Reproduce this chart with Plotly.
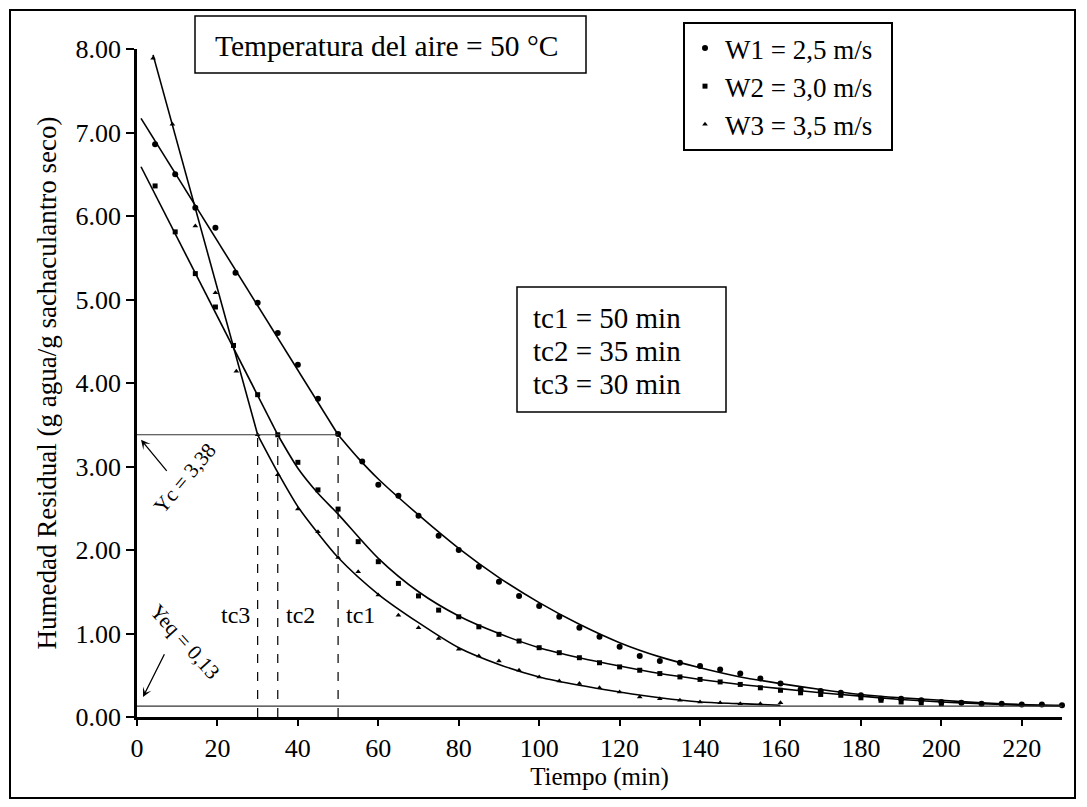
import plotly.graph_objects as go

# ---------------- data ----------------
# measured points (Humedad residual, g agua / g sachaculantro seco)
t_w1 = [4.5, 9.5, 14.5, 19.5, 24.5, 30, 35, 40, 45, 50,
        56, 60, 65, 70, 75, 80, 85, 90, 95, 100,
        105, 110, 115, 120, 125, 130, 135, 140, 145, 150,
        155, 160, 165, 170, 175, 180, 185, 190, 195, 200,
        205, 210, 215, 220, 225, 230]
w1 = [6.86, 6.50, 6.10, 5.86, 5.32, 4.96, 4.60, 4.22, 3.81, 3.39,
      3.06, 2.78, 2.65, 2.41, 2.17, 2.00, 1.80, 1.62, 1.45, 1.33,
      1.20, 1.07, 0.96, 0.84, 0.73, 0.67, 0.65, 0.61, 0.57, 0.52,
      0.46, 0.40, 0.33, 0.31, 0.29, 0.26, 0.22, 0.22, 0.20, 0.18,
      0.17, 0.16, 0.16, 0.15, 0.15, 0.14]

t_w2 = [4.5, 9.5, 14.5, 19.5, 24, 30, 35, 40, 45, 50,
        55, 60, 65, 70, 75, 80, 85, 90, 95, 100,
        105, 110, 115, 120, 125, 130, 135, 140, 145, 150,
        155, 160, 165, 170, 175, 180, 185, 190, 195, 200]
w2 = [6.36, 5.81, 5.31, 4.91, 4.45, 3.86, 3.38, 3.05, 2.72, 2.49,
      2.10, 1.86, 1.60, 1.45, 1.28, 1.20, 1.08, 0.99, 0.91, 0.83,
      0.77, 0.71, 0.65, 0.60, 0.56, 0.52, 0.48, 0.45, 0.42, 0.39,
      0.35, 0.32, 0.29, 0.27, 0.26, 0.23, 0.20, 0.18, 0.17, 0.16]

t_w3 = [4, 8.8, 14.5, 19.5, 24.7, 30, 35, 40, 45, 50,
        55, 60, 65, 70, 75, 80, 85, 90, 95, 100,
        105, 110, 115, 120, 125, 130, 135, 140, 145, 150,
        155, 160]
w3 = [7.89, 7.10, 5.88, 5.08, 4.14, 3.38, 2.90, 2.49, 2.22, 1.91,
      1.74, 1.46, 1.22, 1.07, 0.94, 0.81, 0.73, 0.67, 0.56, 0.48,
      0.43, 0.40, 0.35, 0.30, 0.24, 0.22, 0.20, 0.18, 0.17, 0.16,
      0.16, 0.17]

# fitted curves: constant-rate (straight) part and falling-rate part
lin_t_w1 = [1, 50]
lin_w1 = [7.17, 3.38]
fall_t_w1 = [50, 55, 60, 70, 80, 90, 100, 110, 120, 130, 140, 150, 160, 170, 180, 190, 200, 210, 220, 230]
fall_w1 = [3.38, 3.10, 2.85, 2.42, 2.02, 1.67, 1.37, 1.11, 0.89, 0.72, 0.59, 0.48, 0.40, 0.33, 0.27, 0.23, 0.20, 0.17, 0.15, 0.14]

lin_t_w2 = [1, 35]
lin_w2 = [6.59, 3.38]
fall_t_w2 = [35, 40, 45, 50, 60, 70, 80, 90, 100, 110, 120, 130, 140, 150, 160, 170, 180, 190, 200, 210, 220, 230]
fall_w2 = [3.38, 2.98, 2.68, 2.43, 1.90, 1.50, 1.21, 1.00, 0.83, 0.71, 0.61, 0.52, 0.45, 0.39, 0.34, 0.29, 0.25, 0.21, 0.18, 0.16, 0.14, 0.13]

lin_t_w3 = [4, 30]
lin_w3 = [7.93, 3.38]
fall_t_w3 = [30, 35, 40, 45, 50, 60, 70, 80, 90, 100, 110, 120, 130, 140, 150, 160]
fall_w3 = [3.38, 2.93, 2.52, 2.20, 1.91, 1.47, 1.13, 0.83, 0.63, 0.48, 0.38, 0.30, 0.23, 0.18, 0.16, 0.14]

series_names = ["W1 = 2,5 m/s", "W2 = 3,0 m/s", "W3 = 3,5 m/s"]
tc_names = ["tc1", "tc2", "tc3"]
tc_vals = [50, 35, 30]
Yc = 3.38
Yeq = 0.13
x_ticks = [0, 20, 40, 60, 80, 100, 120, 140, 160, 180, 200, 220]
y_ticks = [0, 1, 2, 3, 4, 5, 6, 7, 8]

FONT = "Liberation Serif"

# ---------------- figure ----------------
fig = go.Figure()

fits = [(lin_t_w1, lin_w1, fall_t_w1, fall_w1),
        (lin_t_w2, lin_w2, fall_t_w2, fall_w2),
        (lin_t_w3, lin_w3, fall_t_w3, fall_w3)]
for lt, ly, ft, fy in fits:
    fig.add_trace(go.Scatter(x=lt, y=ly, mode="lines", showlegend=False,
                             line=dict(color="black", width=1.6), hoverinfo="skip"))
    fig.add_trace(go.Scatter(x=ft, y=fy, mode="lines", showlegend=False,
                             line=dict(color="black", width=1.6, shape="spline", smoothing=0.8),
                             hoverinfo="skip"))

symbols = ["circle", "square", "triangle-up"]
sizes = [6, 5, 5]
for (tt, yy), name, sym, sz, grp in zip([(t_w1, w1), (t_w2, w2), (t_w3, w3)],
                                        series_names, symbols, sizes, ["a", "b", "c"]):
    fig.add_trace(go.Scatter(x=tt, y=yy, mode="markers", name=name + "\u00a0\u00a0",
                             legendgroup=grp,
                             marker=dict(color="black", size=sz, symbol=sym),
                             cliponaxis=False))

shapes = []
shapes.append(dict(type="line", xref="x", yref="y", x0=0, x1=max(tc_vals), y0=Yc, y1=Yc,
                   line=dict(color="#333333", width=1.2)))
shapes.append(dict(type="line", xref="x", yref="y", x0=0, x1=230, y0=Yeq, y1=Yeq,
                   line=dict(color="#333333", width=1.2)))
for tc in tc_vals:
    shapes.append(dict(type="line", xref="x", yref="y", x0=tc, x1=tc, y0=0, y1=Yc,
                       line=dict(color="black", width=1.2, dash="dash")))

# page body has an 8 px margin: work in page pixels, convert to figure pixels
OFF = 8
FW, FH = 1071, 791
L, R, T, B = 137 - OFF, 1062 - OFF, 49 - OFF, 717 - OFF
W, H = R - L, B - T
def px(x):
    return (x - OFF - L) / W
def py(y):
    return (B - (y - OFF)) / H

shapes.append(dict(type="rect", xref="paper", yref="paper",
                   x0=px(10), x1=px(1075), y0=py(798), y1=py(10),
                   line=dict(color="black", width=2)))
shapes.append(dict(type="rect", xref="paper", yref="paper",
                   x0=px(195), x1=px(586), y0=py(73), y1=py(16),
                   line=dict(color="black", width=1.5), fillcolor="white"))
shapes.append(dict(type="rect", xref="paper", yref="paper",
                   x0=px(517), x1=px(726), y0=py(412), y1=py(287),
                   line=dict(color="black", width=1.5), fillcolor="white"))

annotations = []
annotations.append(dict(xref="paper", yref="paper", x=px(386), y=py(46),
                        text="Temperatura del aire = 50 °C", showarrow=False,
                        font=dict(family=FONT, size=29.5, color="black"),
                        xanchor="center", yanchor="middle"))
for i, (n, v) in enumerate(zip(tc_names, tc_vals)):
    annotations.append(dict(xref="paper", yref="paper", x=px(531), y=py(318 + 33 * i),
                            text=f"{n} = {v} min", showarrow=False,
                            font=dict(family=FONT, size=29, color="black"),
                            xanchor="left", yanchor="middle"))
for n, v, dx, anc in zip(tc_names, tc_vals, [1.5, 1.5, -1.5], ["left", "left", "right"]):
    annotations.append(dict(xref="x", yref="y", x=v + dx, y=1.22, text=n, showarrow=False,
                            font=dict(family=FONT, size=24, color="black"),
                            xanchor=anc, yanchor="middle"))
annotations.append(dict(xref="x", yref="y", x=11.9, y=2.86, text="Yc = 3,38", showarrow=False,
                        textangle=-50, font=dict(family=FONT, size=21, color="black")))
annotations.append(dict(xref="x", yref="y", axref="x", ayref="y", x=1.0, y=3.32, ax=7.7, ay=2.93,
                        text="", showarrow=True, arrowhead=3, arrowsize=1.2, arrowwidth=1.3,
                        arrowcolor="black"))
annotations.append(dict(xref="x", yref="y", x=12.0, y=0.90, text="Yeq = 0,13", showarrow=False,
                        textangle=48, font=dict(family=FONT, size=21, color="black")))
annotations.append(dict(xref="x", yref="y", axref="x", ayref="y", x=1.5, y=0.24, ax=7.0, ay=0.77,
                        text="", showarrow=True, arrowhead=3, arrowsize=1.2, arrowwidth=1.3,
                        arrowcolor="black"))

fig.update_layout(
    width=FW, height=FH,
    margin=dict(l=L, r=FW - R, t=T, b=FH - B, autoexpand=False),
    paper_bgcolor="white", plot_bgcolor="white",
    font=dict(family=FONT, color="black"),
    shapes=shapes, annotations=annotations,
    showlegend=True,
    legend=dict(x=px(683), y=py(22), xanchor="left", yanchor="top",
                bgcolor="white", bordercolor="black", borderwidth=2,
                font=dict(family=FONT, size=27, color="black"),
                tracegroupgap=0, itemwidth=30),
    xaxis=dict(range=[0, 230], tickvals=x_ticks, showgrid=False, zeroline=False,
               showline=True, linecolor="black", linewidth=2.5, automargin=False,
               ticks="outside", ticklen=6, tickwidth=2, tickcolor="black",
               tickfont=dict(family=FONT, size=26),
               title=dict(text="Tiempo (min)", font=dict(family=FONT, size=25), standoff=0)),
    yaxis=dict(range=[0, 8], tickvals=y_ticks, tickformat=".2f", showgrid=False, zeroline=False,
               showline=True, linecolor="black", linewidth=2.5, automargin=False,
               ticks="outside", ticklen=8, tickwidth=2, tickcolor="black",
               tickfont=dict(family=FONT, size=26),
               title=dict(text="Humedad Residual (g agua/g sachaculantro seco)",
                          font=dict(family=FONT, size=27), standoff=12)),
)

fig.write_html("out.html")
